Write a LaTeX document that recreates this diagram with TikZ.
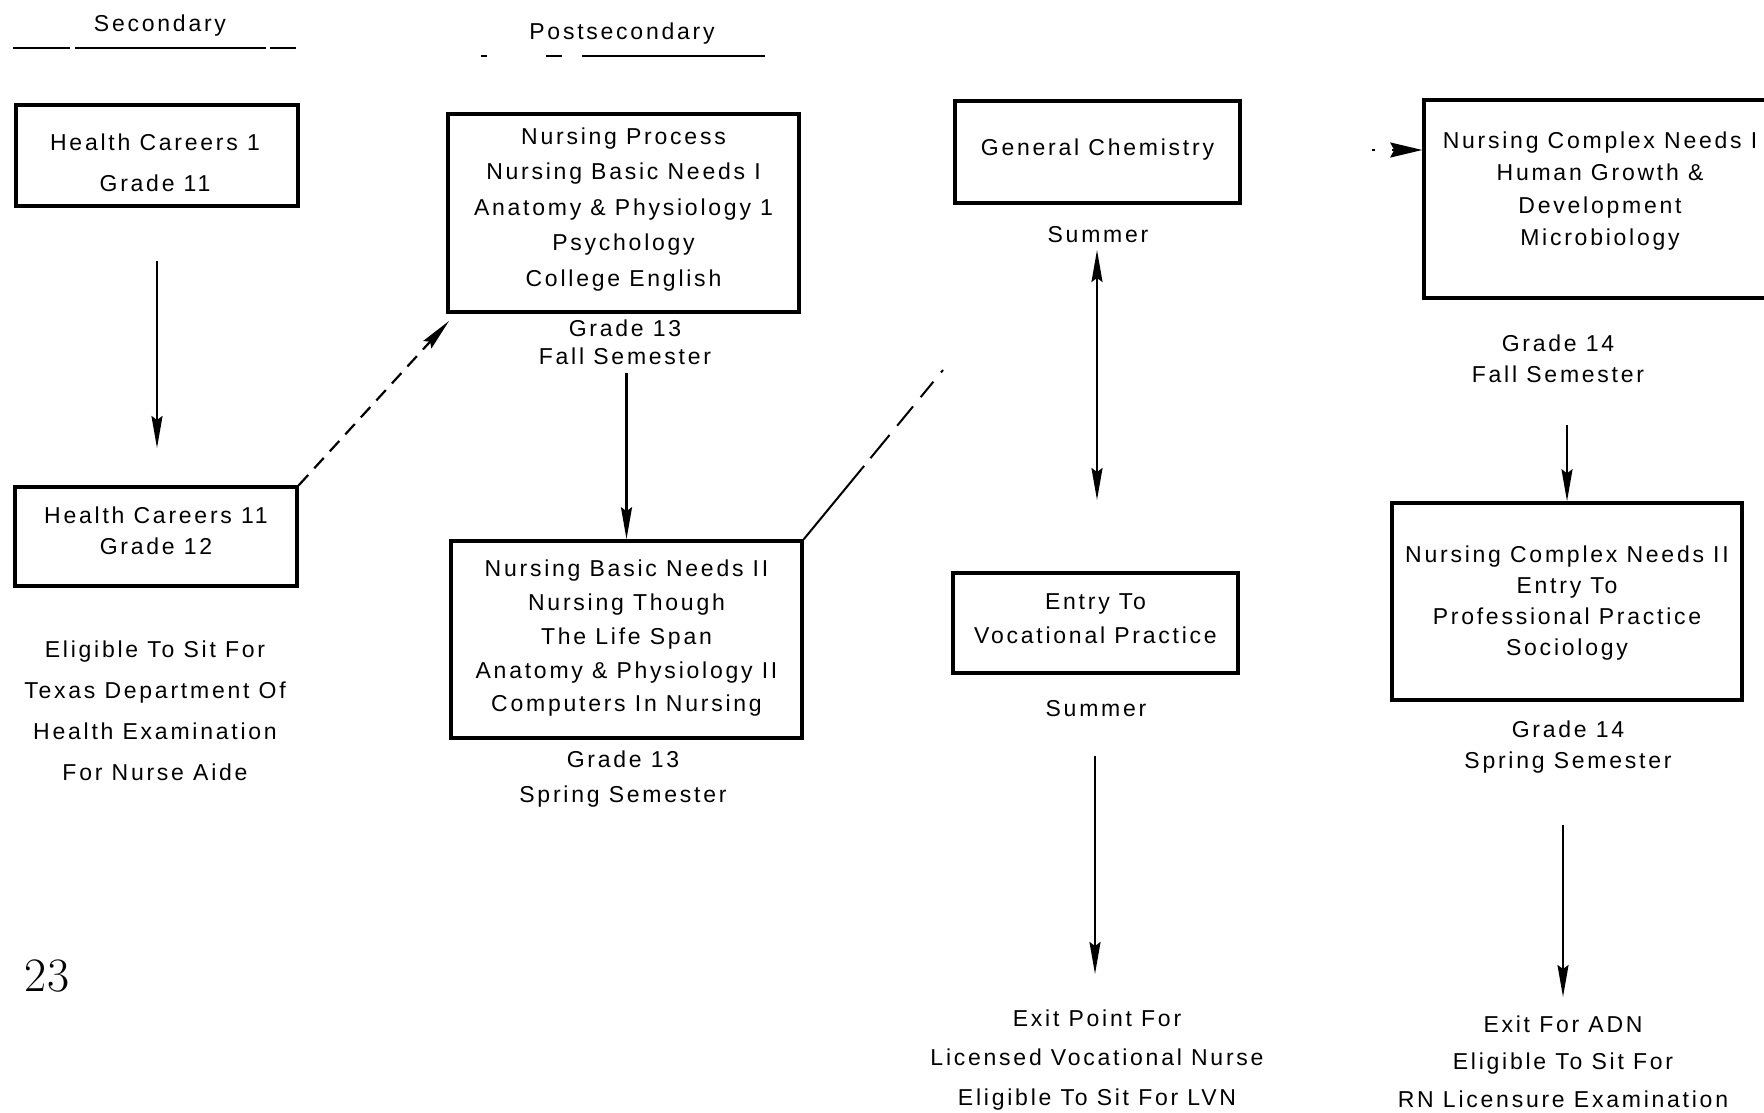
\documentclass[tikz,border=0pt]{standalone}
\usepackage{fontspec}
\setsansfont{Liberation Sans}[LetterSpace=12]
\usetikzlibrary{arrows.meta}
\begin{document}
\begin{tikzpicture}[x=1pt,y=-1pt,
  txt/.style={font=\sffamily\fontsize{23}{34}\selectfont},
  box/.style={draw, line width=3.5pt, inner sep=0pt},
  lbl/.style={txt, inner sep=0pt, align=center},
  arr/.style={line width=2.2pt, -{Stealth[length=32pt,width=11pt,inset=4pt]}},
  dbl/.style={line width=2.2pt, {Stealth[length=32pt,width=11pt,inset=4pt]}-{Stealth[length=32pt,width=11pt,inset=4pt]}},
  rule/.style={line width=1.6pt}]
\clip (0,0) rectangle (1764,1113);
\fill[white] (0,0) rectangle (1764,1113);

% headings
\node[lbl] (sec) at (160,26) {Secondary};
\node[lbl] (post) at (622,34) {Postsecondary};
\draw[rule] (13,48) -- (70,48) (75,48) -- (266,48) (270,48) -- (296,48);
\draw[rule] (481,56) -- (487,56) (546,56) -- (562,56) (582,56) -- (765,56);

% boxes
\node[box, minimum width=282, minimum height=101] (hc1) at (157,155.5) {};
\node[box, minimum width=282, minimum height=99] (hc2) at (156,536.5) {};
\node[box, minimum width=351, minimum height=198] (np) at (623.5,213) {};
\node[box, minimum width=351, minimum height=197] (nbn) at (626.5,639.5) {};
\node[box, minimum width=285, minimum height=102] (chem) at (1097.5,152) {};
\node[box, minimum width=285, minimum height=100] (entry) at (1095.5,623) {};
\node[box, minimum width=352, minimum height=198] (ncn1) at (1600,199) {};
\node[box, minimum width=350, minimum height=197] (ncn2) at (1567,601.5) {};

% box texts
\node[lbl, font=\sffamily\fontsize{23}{41}\selectfont] (hc1t) at (155,162.5)
  {Health Careers 1\\ Grade 11};
\node[lbl, font=\sffamily\fontsize{23}{31}\selectfont] (hc2t) at (156,530.5)
  {Health Careers 11\\ Grade 12};
\node[lbl, font=\sffamily\fontsize{23}{35.5}\selectfont] (npt) at (623.5,209.5)
  {Nursing Process\\ Nursing Basic Needs I\\ Anatomy \& Physiology 1\\ Psychology\\ College English};
\node[lbl, font=\sffamily\fontsize{23}{33.75}\selectfont] (nbnt) at (626.5,638.5)
  {Nursing Basic Needs II\\ Nursing Though\\ The Life Span\\ Anatomy \& Physiology II\\ Computers In Nursing};
\node[lbl] (chemt) at (1097.5,149.5) {General Chemistry};
\node[lbl, font=\sffamily\fontsize{23}{34}\selectfont] (entryt) at (1095.5,619)
  {Entry To\\ Vocational Practice};
\node[lbl, font=\sffamily\fontsize{23}{32.3}\selectfont] (ncn1t) at (1600,191)
  {Nursing Complex Needs I\\ Human Growth \&\\ Development\\ Microbiology};
\node[lbl, font=\sffamily\fontsize{23}{31.3}\selectfont] (ncn2t) at (1567,603)
  {Nursing Complex Needs II\\ Entry To\\ Professional Practice\\ Sociology};

% labels
\node[lbl, font=\sffamily\fontsize{23}{41}\selectfont] (elig) at (155,710.5)
  {Eligible To Sit For\\ Texas Department Of\\ Health Examination\\ For Nurse Aide};
\node[lbl, font=\sffamily\fontsize{23}{28}\selectfont] (g13f) at (625,342) {Grade 13\\ Fall Semester};
\node[lbl, font=\sffamily\fontsize{23}{35}\selectfont] (g13s) at (623,779.5) {Grade 13\\ Spring Semester};
\node[lbl] (suma) at (1098,235) {Summer};
\node[lbl] (sumb) at (1096,709) {Summer};
\node[lbl, font=\sffamily\fontsize{23}{31}\selectfont] (g14f) at (1558,358.5) {Grade 14\\ Fall Semester};
\node[lbl, font=\sffamily\fontsize{23}{31}\selectfont] (g14s) at (1568,747.5) {Grade 14\\ Spring Semester};
\node[lbl, font=\sffamily\fontsize{23}{39.5}\selectfont] (exitl) at (1097,1060)
  {Exit Point For\\ Licensed Vocational Nurse\\ Eligible To Sit For LVN};
\node[lbl, font=\sffamily\fontsize{23}{37.5}\selectfont] (exita) at (1563,1061.5)
  {Exit For ADN\\ Eligible To Sit For\\ RN Licensure Examination};
\node[inner sep=0pt, font=\rmfamily\fontsize{48}{50}\selectfont] (pg) at (47,976) {23};

% free ends
\coordinate (a1s) at (157,261);
\coordinate (a1e) at (157,448);
\coordinate (nptip) at (449,321);
\coordinate (a2s) at (626.5,373);
\coordinate (dend) at (943,370);
\coordinate (sus) at (1097,250);
\coordinate (sue) at (1097,500);
\coordinate (smalls) at (1372,150);
\coordinate (a3s) at (1567,425);
\coordinate (a4s) at (1095,756);
\coordinate (a4e) at (1095,974);
\coordinate (a5s) at (1563,825);
\coordinate (a5e) at (1563,997);

% connectors
\draw[arr] (a1s) -- (a1e);
\draw[arr, dash pattern=on 14pt off 9pt] (hc2.north east) -- (nptip);
\draw[arr] (a2s) -- (nbn.north);
\draw[line width=2pt, dash pattern=on 95pt off 10pt on 30pt off 12pt on 25pt off 12pt on 20pt off 12pt] (nbn.north east) -- (dend);
\draw[dbl] (sus) -- (sue);
\draw[line width=2.2pt, dash pattern=on 3pt off 17pt, -{Stealth[length=32pt,width=15pt,inset=4pt]}] (smalls) -- (ncn1.west |- smalls);
\draw[arr] (a3s) -- (ncn2.north);
\draw[arr] (a4s) -- (a4e);
\draw[arr] (a5s) -- (a5e);
\end{tikzpicture}
\end{document}
